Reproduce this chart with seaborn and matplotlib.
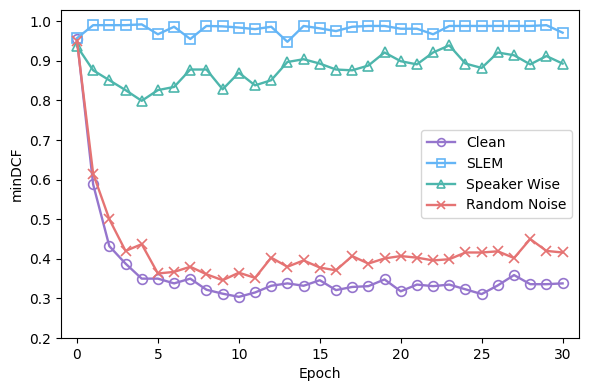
import matplotlib
matplotlib.use("Agg")
import matplotlib.pyplot as plt
import numpy as np
import pandas as pd
import seaborn as sns

epochs = list(range(31))

clean = [0.955, 0.588, 0.432, 0.388, 0.350, 0.350, 0.338, 0.350, 0.322, 0.312,
         0.304, 0.315, 0.332, 0.338, 0.332, 0.346, 0.321, 0.329, 0.331, 0.348,
         0.318, 0.335, 0.331, 0.335, 0.323, 0.311, 0.333, 0.359, 0.336, 0.336,
         0.338]
slem = [0.957, 0.990, 0.990, 0.990, 0.992, 0.967, 0.986, 0.955, 0.988, 0.987,
        0.984, 0.980, 0.986, 0.948, 0.988, 0.982, 0.975, 0.986, 0.988, 0.988,
        0.981, 0.981, 0.967, 0.988, 0.988, 0.988, 0.988, 0.988, 0.988, 0.990,
        0.971]
speaker = [0.937, 0.876, 0.851, 0.826, 0.799, 0.826, 0.834, 0.878, 0.878, 0.828,
           0.870, 0.838, 0.851, 0.897, 0.904, 0.893, 0.878, 0.876, 0.888, 0.921,
           0.899, 0.891, 0.921, 0.939, 0.893, 0.882, 0.921, 0.914, 0.891, 0.912,
           0.893]
noise = [0.950, 0.615, 0.500, 0.420, 0.437, 0.363, 0.367, 0.380, 0.361, 0.346,
         0.365, 0.352, 0.403, 0.380, 0.396, 0.378, 0.371, 0.407, 0.388, 0.401,
         0.407, 0.403, 0.396, 0.399, 0.416, 0.416, 0.419, 0.402, 0.450, 0.420,
         0.416]

series = [
    ("Clean", clean, "#9575CD", "o"),
    ("SLEM", slem, "#64B5F6", "s"),
    ("Speaker Wise", speaker, "#4DB6AC", "^"),
    ("Random Noise", noise, "#E57373", "x"),
]

fig, ax = plt.subplots(figsize=(5.9, 3.89), dpi=100)

for name, vals, color, marker in series:
    df = pd.DataFrame({"Epoch": epochs, "minDCF": vals})
    sns.lineplot(
        data=df, x="Epoch", y="minDCF", ax=ax, label=name,
        color=color, marker=marker, markersize=7, linewidth=1.7,
        markerfacecolor="none", markeredgecolor=color, markeredgewidth=1.2,
    )

ax.set_xlim(-1, 31)
ax.set_ylim(0.2, 1.028)
ax.set_xticks(range(0, 31, 5))
ax.set_yticks(np.arange(0.2, 1.01, 0.1))
ax.set_xlabel("Epoch")
ax.set_ylabel("minDCF")
ax.legend(loc="center right", fontsize=10, markerscale=0.8)

fig.subplots_adjust(left=0.103, right=0.981, top=0.974, bottom=0.131)
fig.savefig("out.png", dpi=100)
plt.close(fig)
